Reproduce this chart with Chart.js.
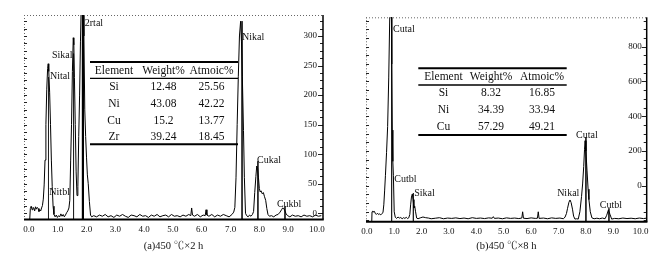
<!DOCTYPE html>
<html>
<head>
<meta charset="utf-8">
<script src="https://cdn.jsdelivr.net/npm/chart.js@4.4.0/dist/chart.umd.min.js"></script>
<style>
	html, body { margin: 0; padding: 0; background: #fff; }
	#wrap { position: relative; width: 670px; height: 257px; }
	#wrap canvas { position: absolute; left: 0; top: 0; }
</style>
</head>
<body>
<div id="wrap">
	<canvas id="chart-a" width="670" height="257"></canvas>
	<canvas id="chart-b" width="670" height="257"></canvas>
</div>
<script>
// ---- data: (a) 450 C x 2 h ----
const energyA = [
	0.03, 0.05, 0.08, 0.11, 0.14, 0.17, 0.20, 0.23, 0.26, 0.29,
	0.32, 0.35, 0.38, 0.41, 0.44, 0.47, 0.50, 0.53, 0.56, 0.59,
	0.62, 0.65, 0.67, 0.69, 0.72, 0.75, 0.78, 0.81, 0.84, 0.87,
	0.91, 0.95, 0.99, 1.03, 1.07, 1.11, 1.15, 1.19, 1.23, 1.27,
	1.31, 1.35, 1.39, 1.42, 1.45, 1.48, 1.51, 1.54, 1.56, 1.58,
	1.61, 1.64, 1.67, 1.70, 1.73, 1.76, 1.79, 1.82, 1.85, 1.88,
	1.91, 1.94, 1.97, 2.00, 2.03, 2.06, 2.10, 2.14, 2.18, 2.25,
	2.35, 2.45, 2.55, 2.65, 2.75, 2.85, 2.95, 3.05, 3.15, 3.25,
	3.35, 3.45, 3.55, 3.65, 3.75, 3.85, 3.95, 4.05, 4.15, 4.25,
	4.35, 4.45, 4.55, 4.65, 4.75, 4.85, 4.95, 5.05, 5.15, 5.25,
	5.35, 5.45, 5.55, 5.62, 5.65, 5.68, 5.75, 5.85, 5.95, 6.05,
	6.12, 6.15, 6.18, 6.25, 6.35, 6.45, 6.55, 6.65, 6.75, 6.85,
	6.95, 7.05, 7.11, 7.15, 7.19, 7.23, 7.27, 7.31, 7.35, 7.38,
	7.41, 7.45, 7.48, 7.52, 7.56, 7.61, 7.66, 7.71, 7.76, 7.80,
	7.84, 7.88, 7.91, 7.94, 7.97, 8.00, 8.03, 8.06, 8.10, 8.14,
	8.18, 8.22, 8.26, 8.30, 8.35, 8.42, 8.50, 8.58, 8.65, 8.72,
	8.77, 8.81, 8.85, 8.89, 8.93, 8.98, 9.06, 9.15, 9.25, 9.35,
	9.45, 9.55, 9.65, 9.75, 9.85, 9.95, 10.05, 10.15,
];
const countsA = [
	-10, 8, 12, 6, 10, 9, 4, 11, 7, 10,
	8, 3, 6, 4, 9, 13, 24, 48, 90, 150,
	210, 245, 253, 240, 205, 150, 90, 45, 12, -2,
	-6, -3, -7, -4, -6, -1, -5, -2, -6, -3,
	1, 4, 9, 22, 90, 150, 240, 297, 285, 230,
	150, 70, 30, 45, 130, 200, 290, 360, 400, 390,
	300, 175, 130, 95, 65, 50, 20, -3, -6, -4,
	-6, -3, -5, -2, -6, -4, -7, -3, -5, -2,
	-5, -7, -3, -4, -6, -2, -5, -4, -7, -3,
	-5, -2, -6, -4, -3, -6, -2, -5, -4, -6,
	-3, -5, -2, -4, 9, -3, -5, -2, -6, -3,
	-4, 6, -3, -5, -2, -6, -3, -5, -2, -4,
	-6, -2, 2, 10, 60, 150, 231, 300, 325, 290,
	231, 140, 61, 0, -4, -6, -3, -5, -2, 3,
	35, 62, 80, 76, 60, 42, 36, 38, 33, 35,
	28, 22, 8, -2, -5, -4, -6, -3, -2, 2,
	6, 9, 8, 4, -1, -4, -6, -3, -5, -4,
	-6, -3, -5, -4, -6, -3, -5, -4,
];
const peakNamesA = ["Nital", "Sikal", "2rtal", "Nitbl", "Nikal", "Cukal", "Cukbl"];
const peakLabelEA = [0.73, 0.80, 1.94, 0.71, 7.40, 7.92, 8.61];
const peakLabelCA = [231, 268, 322, 36, 298, 89, 15];
const markerEA = [0.68, 1.55, 7.40, 7.95, 8.89];
const markerTopA = [230, 270, 325, 88, 12];
const strongMarkerEA = [1.875];
const elementsA = ["Si", "Ni", "Cu", "Zr"];
const weightA = ["12.48", "43.08", "15.2", "39.24"];
const atomicA = ["25.56", "42.22", "13.77", "18.45"];
const yTicksA = [0, 50, 100, 150, 200, 250, 300];

// ---- data: (b) 450 C x 8 h ----
const energyB = [
	0.18, 0.19, 0.22, 0.25, 0.28, 0.31, 0.35, 0.39, 0.43, 0.47,
	0.51, 0.55, 0.59, 0.62, 0.65, 0.68, 0.72, 0.76, 0.80, 0.84,
	0.87, 0.89, 0.91, 0.93, 0.95, 0.97, 1.00, 1.04, 1.09, 1.14,
	1.19, 1.24, 1.29, 1.34, 1.39, 1.44, 1.49, 1.53, 1.57, 1.60,
	1.63, 1.66, 1.69, 1.72, 1.75, 1.78, 1.82, 1.87, 1.95, 2.05,
	2.15, 2.25, 2.35, 2.50, 2.65, 2.80, 2.95, 3.10, 3.25, 3.40,
	3.55, 3.70, 3.85, 4.00, 4.15, 4.30, 4.45, 4.58, 4.62, 4.66,
	4.80, 4.95, 5.10, 5.25, 5.40, 5.55, 5.66, 5.69, 5.72, 5.85,
	6.00, 6.15, 6.23, 6.26, 6.29, 6.45, 6.60, 6.75, 6.90, 7.05,
	7.18, 7.24, 7.29, 7.33, 7.38, 7.42, 7.46, 7.51, 7.55, 7.60,
	7.66, 7.72, 7.78, 7.84, 7.88, 7.92, 7.95, 7.97, 8.00, 8.04,
	8.08, 8.11, 8.16, 8.22, 8.30, 8.40, 8.50, 8.60, 8.70, 8.76,
	8.82, 8.88, 8.94, 9.05, 9.20, 9.35, 9.50, 9.65, 9.80, 9.95,
	10.10, 10.20,
];
const countsB = [
	-207, -150, -145, -152, -148, -160, -165, -158, -166, -162,
	-168, -160, -155, -110, -30, 60, 190, 340, 620, 1000,
	1250, 1250, 700, 320, 140, 60, -150, -182, -188, -180,
	-186, -183, -190, -184, -188, -182, -189, -185, -165, -110,
	-65, -48, -80, -128, -118, -150, -186, -190, -185, -180,
	-184, -186, -190, -187, -184, -190, -186, -188, -185, -189,
	-186, -190, -184, -188, -186, -189, -185, -187, -178, -188,
	-186, -190, -185, -188, -186, -189, -186, -150, -187, -189,
	-185, -188, -187, -150, -188, -186, -190, -185, -188, -186,
	-190, -180, -160, -130, -95, -82, -97, -135, -175, -192,
	-190, -192, -150, -63, 10, 110, 210, 259, 200, 90,
	-20, -80, -150, -185, -190, -187, -190, -186, -190, -170,
	-140, -165, -192, -188, -190, -186, -189, -187, -190, -186,
	-189, -187,
];
const peakNamesB = ["Cutal", "Cutbl", "Sikal", "Nikal", "Cutal", "Cutbl"];
const peakLabelEB = [0.96, 1.00, 1.73, 6.95, 7.64, 8.51];
const peakLabelCB = [902, 39, -42, -45, 292, -111];
const markerEB = [0.905, 1.70, 8.00, 8.84];
const markerTopB = [969, -42, 280, -130];
const strongMarkerEB = [];
const elementsB = ["Si", "Ni", "Cu"];
const weightB = ["8.32", "34.39", "57.29"];
const atomicB = ["16.85", "33.94", "49.21"];
const yTicksB = [0, 200, 400, 600, 800];

const xTickValues = [0, 1, 2, 3, 4, 5, 6, 7, 8, 9, 10];
const xTickLabels = ["0.0", "1.0", "2.0", "3.0", "4.0", "5.0", "6.0", "7.0", "8.0", "9.0", "10.0"];
const tableHeader = ["Element", "Weight%", "Atmoic%"];

const SERIF = '"Liberation Serif", "Times New Roman", "Noto Serif CJK SC", "Noto Sans CJK SC", serif';
const INK = "#111";

const toPoints = (xs, ys) => xs.map((x, i) => ({ x, y: ys[i] }));
const toMarkers = (xs, tops, bottom) => xs.flatMap((x, i) => [{ x, y: tops[i] }, { x, y: bottom }, { x, y: null }]);

// frame, minor ticks, peak names and the composition table
const decorPlugin = {
	id: "decor",
	afterDatasetsDraw(chart, args, opts) {
		const { ctx, chartArea: area, scales: { x, y } } = chart;
		ctx.save();

		// dotted top / left border
		ctx.strokeStyle = "#666";
		ctx.lineWidth = 1;
		ctx.setLineDash([1, 2]);
		ctx.beginPath();
		ctx.moveTo(area.left, area.top + 0.5);
		ctx.lineTo(area.right, area.top + 0.5);
		ctx.moveTo(area.left + 0.5, area.top);
		ctx.lineTo(area.left + 0.5, area.bottom);
		ctx.stroke();
		ctx.setLineDash([]);

		// minor / major ticks on both sides
		ctx.strokeStyle = "#222";
		ctx.beginPath();
		const first = Math.ceil(y.min / opts.minorStep) * opts.minorStep;
		for (let v = first; v <= y.max; v += opts.minorStep) {
			const py = Math.round(y.getPixelForValue(v)) + 0.5;
			const major = opts.yTicks.includes(v);
			ctx.moveTo(area.left, py);
			ctx.lineTo(area.left + 3, py);
			ctx.moveTo(area.right, py);
			ctx.lineTo(area.right - (major ? 5 : 3), py);
		}
		ctx.stroke();

		// solid right / bottom border
		ctx.strokeStyle = "#000";
		ctx.lineWidth = 1.5;
		ctx.beginPath();
		ctx.moveTo(area.right, area.top);
		ctx.lineTo(area.right, area.bottom);
		ctx.stroke();
		ctx.lineWidth = 2;
		ctx.beginPath();
		ctx.moveTo(area.left, area.bottom);
		ctx.lineTo(area.right + 0.75, area.bottom);
		ctx.stroke();

		// peak names
		ctx.fillStyle = INK;
		ctx.font = `10px ${SERIF}`;
		ctx.textAlign = "left";
		ctx.textBaseline = "middle";
		opts.names.forEach((name, i) => {
			ctx.fillText(name, x.getPixelForValue(opts.nameE[i]), y.getPixelForValue(opts.nameC[i]));
		});

		// composition table
		const t = opts.table;
		ctx.strokeStyle = "#000";
		ctx.lineWidth = 2;
		ctx.beginPath();
		ctx.moveTo(t.x0, t.topY);
		ctx.lineTo(t.x1, t.topY);
		ctx.moveTo(t.x0, t.bottomY);
		ctx.lineTo(t.x1, t.bottomY);
		ctx.stroke();
		ctx.lineWidth = 1.3;
		ctx.beginPath();
		ctx.moveTo(t.x0, t.ruleY);
		ctx.lineTo(t.x1, t.ruleY);
		ctx.stroke();
		ctx.font = `11.5px ${SERIF}`;
		ctx.textAlign = "center";
		tableHeader.forEach((h, c) => ctx.fillText(h, t.cols[c], t.headY));
		t.rows.forEach((row, r) => {
			row.forEach((cell, c) => ctx.fillText(cell, t.cols[c], t.rowY[r]));
		});

		ctx.restore();
	},
};

const makeConfig = (p) => ({
	type: "scatter",
	data: {
		datasets: [
			{
				data: toPoints(p.energy, p.counts),
				showLine: true,
				borderColor: "#000",
				borderWidth: 1,
				pointRadius: 0,
				tension: 0,
			},
			{
				data: toMarkers(p.markerE, p.markerTop, p.yMin),
				showLine: true,
				borderColor: "#222",
				borderWidth: 1,
				pointRadius: 0,
			},
			{
				data: toMarkers(p.strongE, p.strongE.map(() => p.yMax), p.yMin),
				showLine: true,
				borderColor: "#000",
				borderWidth: 2.2,
				pointRadius: 0,
			},
		],
	},
	options: {
		responsive: false,
		animation: false,
		events: [],
		layout: { padding: { top: p.top, bottom: 0, left: 0, right: 0 } },
		plugins: {
			legend: { display: false },
			tooltip: { enabled: false },
			decor: {
				minorStep: p.minorStep,
				yTicks: p.yTicks,
				names: p.names,
				nameE: p.nameE,
				nameC: p.nameC,
				table: p.table,
			},
		},
		scales: {
			x: {
				type: "linear",
				min: p.xMin,
				max: p.xMax,
				afterBuildTicks: (scale) => {
					scale.ticks = xTickValues.map((v) => ({ value: v }));
				},
				afterFit: (scale) => {
					scale.height = 257 - p.bottom;
				},
				grid: { display: false, drawTicks: false },
				border: { display: false },
				ticks: {
					autoSkip: false,
					maxRotation: 0,
					padding: 5,
					color: INK,
					font: { family: SERIF, size: 9 },
					callback: (value, index) => xTickLabels[index],
				},
				title: {
					display: true,
					text: p.caption,
					color: INK,
					font: { family: SERIF, size: 10.5 },
					padding: { top: 0, bottom: 4 },
				},
			},
			y: {
				type: "linear",
				position: "right",
				min: p.yMin,
				max: p.yMax,
				afterBuildTicks: (scale) => {
					scale.ticks = p.yTicks.map((v) => ({ value: v }));
				},
				afterFit: (scale) => {
					scale.width = 670 - p.right;
				},
				grid: { display: false, drawTicks: false },
				border: { display: false },
				ticks: {
					mirror: true,
					padding: -p.labelGap,
					color: INK,
					font: { family: SERIF, size: 9 },
				},
			},
			yl: {
				type: "linear",
				position: "left",
				min: p.yMin,
				max: p.yMax,
				afterFit: (scale) => {
					scale.width = p.left;
				},
				grid: { display: false },
				border: { display: false },
				ticks: { display: false },
			},
		},
	},
	plugins: [decorPlugin],
});

new Chart(document.getElementById("chart-a"), makeConfig({
	energy: energyA,
	counts: countsA,
	markerE: markerEA,
	markerTop: markerTopA,
	strongE: strongMarkerEA,
	names: peakNamesA,
	nameE: peakLabelEA,
	nameC: peakLabelCA,
	yTicks: yTicksA,
	minorStep: 12.5,
	xMin: -0.17,
	xMax: 10.21,
	yMin: -10.5,
	yMax: 335.5,
	left: 24,
	right: 323,
	top: 15,
	bottom: 219.5,
	labelGap: 6,
	caption: "(a)450 ℃×2 h",
	table: {
		x0: 90, x1: 238, topY: 62, headY: 71, ruleY: 78.3, bottomY: 144.3,
		rowY: [87.3, 104, 120.7, 136.7],
		cols: [114, 163.5, 211.5],
		rows: elementsA.map((el, i) => [el, weightA[i], atomicA[i]]),
	},
}));

new Chart(document.getElementById("chart-b"), makeConfig({
	energy: energyB,
	counts: countsB,
	markerE: markerEB,
	markerTop: markerTopB,
	strongE: strongMarkerEB,
	names: peakNamesB,
	nameE: peakLabelEB,
	nameC: peakLabelCB,
	yTicks: yTicksB,
	minorStep: 50,
	xMin: -0.03,
	xMax: 10.22,
	yMin: -207,
	yMax: 969,
	left: 366,
	right: 646.7,
	top: 17.3,
	bottom: 221.7,
	labelGap: 5,
	caption: "(b)450 ℃×8 h",
	table: {
		x0: 418.3, x1: 566.7, topY: 68.3, headY: 77.3, ruleY: 85, bottomY: 135,
		rowY: [93.3, 110, 126.5],
		cols: [443.5, 491, 542],
		rows: elementsB.map((el, i) => [el, weightB[i], atomicB[i]]),
	},
}));
</script>
</body>
</html>
